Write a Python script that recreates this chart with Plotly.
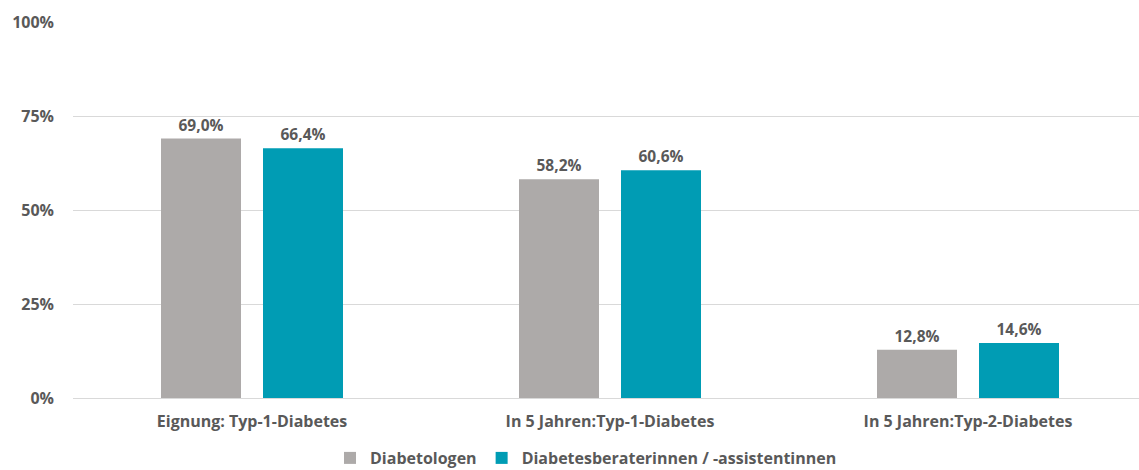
import plotly.graph_objects as go

categories = ["Eignung: Typ-1-Diabetes", "In 5 Jahren:Typ-1-Diabetes", "In 5 Jahren:Typ-2-Diabetes"]
diabetologen = [69.0, 58.2, 12.8]
berater = [66.4, 60.6, 14.6]
y_ticks = [0, 25, 50, 75, 100]
y_ticklabels = ["0%", "25%", "50%", "75%", "100%"]

xpos = list(range(len(categories)))
font_fam = "Open Sans, Calibri, sans-serif"
txt_col = "#595959"
unit = 358.0  # px per category
bw = 80 / unit
gap = 11 / unit

fig = go.Figure()
fig.add_trace(go.Bar(
    x=xpos, y=diabetologen, name="<b>Diabetologen</b>",
    marker=dict(color="#ADAAA9", line=dict(width=0)),
    width=bw, offset=-(bw + gap),
    texttemplate="<b>%{y:.1f}%</b>", textposition="outside",
    textfont=dict(size=15.5, color=txt_col, family=font_fam), cliponaxis=False,
))
fig.add_trace(go.Bar(
    x=xpos, y=berater, name="<b>Diabetesberaterinnen / -assistentinnen</b>",
    marker=dict(color="#009CB4", line=dict(width=0)),
    width=bw, offset=gap,
    texttemplate="<b>%{y:.1f}%</b>", textposition="outside",
    textfont=dict(size=15.5, color=txt_col, family=font_fam), cliponaxis=False,
))

fig.update_layout(
    width=1139, height=470,
    margin=dict(l=73, r=0, t=22, b=72, autoexpand=False),
    plot_bgcolor="white", paper_bgcolor="white",
    barmode="overlay",
    separators=",.",
    font=dict(family=font_fam, color=txt_col, size=16),
    xaxis=dict(
        range=[-0.5, -0.5 + 1066 / unit], tickvals=xpos,
        ticktext=["<b>" + c + "</b>" for c in categories],
        showgrid=False, zeroline=False, showline=False, ticks="",
        tickfont=dict(size=16, color=txt_col), ticklabelstandoff=12,
        automargin=False,
    ),
    yaxis=dict(
        range=[0, 100], tickvals=y_ticks,
        ticktext=["<b>" + t + "</b>" for t in y_ticklabels],
        showgrid=True, gridcolor="#D9D9D9", gridwidth=1,
        zeroline=True, zerolinecolor="#D9D9D9", zerolinewidth=1,
        ticks="", ticklabelstandoff=18, automargin=False,
        tickfont=dict(size=16, color=txt_col),
    ),
    legend=dict(
        orientation="h", x=(586 - 73) / 1066, xanchor="center",
        yref="container", y=1 - 458 / 470, yanchor="middle",
        font=dict(size=16, color=txt_col),
        itemwidth=30, traceorder="normal",
    ),
    showlegend=True,
)

fig.write_html("out.html")
